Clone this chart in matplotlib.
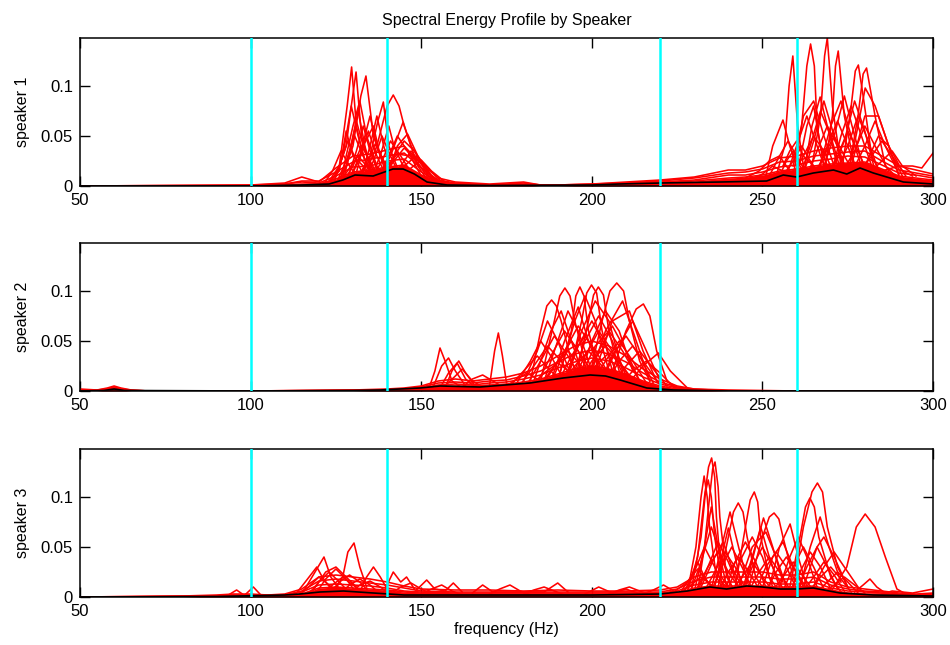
import numpy as np
import matplotlib
matplotlib.use("Agg")
import matplotlib.pyplot as plt

plt.rcParams['font.family'] = ['Liberation Sans', 'DejaVu Sans']

speakers = ['speaker 1', 'speaker 2', 'speaker 3']
band_edges = [100, 140, 220, 260]
xticks = [50, 100, 150, 200, 250, 300]
yticks = [0, 0.05, 0.1]
ytick_labels = ['0', '0.05', '0.1']

# ---- speaker 1 ----
s1_floor_f = [50, 100, 110, 115, 120, 125, 130, 135, 140, 145, 150, 155, 160, 170, 180, 185, 190,
              200, 210, 220, 230, 240, 245, 250, 255, 260, 265, 270, 275, 280, 285, 290, 295, 300]
s1_floor = [
    [0, .001, .003, .009, .004, .018, .030, .032, .036, .040, .022, .008, .004, .002, .004, .001, .001,
     .002, .004, .006, .009, .016, .016, .020, .028, .030, .035, .038, .040, .040, .030, .020, .016, .012],
    [0, .001, .002, .005, .005, .014, .024, .027, .030, .033, .018, .006, .003, .001, .003, .001, .001,
     .002, .003, .005, .008, .013, .014, .017, .024, .025, .030, .032, .034, .035, .025, .016, .013, .010],
    [0, 0, .002, .004, .003, .010, .019, .020, .025, .027, .014, .005, .002, .001, .002, .001, 0,
     .001, .003, .004, .006, .011, .011, .014, .019, .021, .025, .027, .030, .029, .021, .013, .011, .008],
    [0, 0, .001, .002, .002, .007, .014, .016, .019, .021, .011, .004, .002, .001, .001, 0, 0,
     .001, .002, .003, .005, .008, .009, .011, .015, .017, .020, .022, .023, .024, .017, .010, .008, .006],
    [0, 0, .001, .001, .002, .005, .009, .011, .014, .015, .008, .003, .001, 0, .001, 0, 0,
     .001, .001, .002, .003, .006, .006, .008, .011, .012, .014, .016, .017, .018, .012, .007, .006, .004],
    [0, 0, 0, .001, .001, .003, .005, .006, .008, .009, .005, .002, .001, 0, 0, 0, 0,
     0, .001, .001, .002, .004, .004, .005, .007, .008, .009, .010, .011, .011, .008, .005, .004, .003],
    [0, 0, 0, 0, 0, .001, .002, .003, .004, .004, .002, .001, 0, 0, 0, 0, 0,
     0, 0, .001, .001, .002, .002, .002, .003, .004, .004, .005, .005, .005, .004, .002, .002, .001],
]
s1_peaks = [
    [(122, 0), (126, .02), (128.3, .08), (129.6, .119), (131, .06), (133, .03), (136, .01), (140, 0)],
    [(124, 0), (127, .03), (129.5, .08), (130.9, .114), (132.5, .05), (135, .02), (140, 0)],
    [(126, 0), (130, .04), (132.3, .09), (133.8, .110), (136, .05), (139, .02), (143, 0)],
    [(130, 0), (135, .03), (137.3, .065), (138.9, .084), (140.5, .04), (144, .01), (148, 0)],
    [(132, 0), (137, .04), (140, .08), (141.8, .091), (143.5, .08), (145, .06), (149, .02), (153, 0)],
    [(124, 0), (128, .04), (129.5, .080), (131.5, .05), (134, .02), (138, 0)],
    [(126, 0), (130, .06), (132, .085), (134, .05), (137, .02), (141, 0)],
    [(128, 0), (132, .03), (135, .070), (137, .04), (141, .01), (145, 0)],
    [(134, 0), (138, .03), (140.5, .060), (142, .04), (146, .01), (150, 0)],
    [(136, 0), (141, .03), (144.7, .064), (147, .04), (151, .02), (155, 0)],
    [(138, 0), (142, .03), (145, .045), (148, .035), (152, .01), (156, 0)],
    [(122, 0), (126, .015), (128, .055), (130, .03), (133, .02), (136, 0)],
    [(125, 0), (128, .02), (131, .065), (133, .04), (136, .015), (140, 0)],
    [(130, 0), (133, .04), (136, .060), (138, .03), (141, .01), (145, 0)],
    [(139, 0), (143, .04), (146, .052), (149, .03), (153, .01), (157, 0)],
    [(121, 0), (124, .015), (126.5, .035), (129, .02), (132, .005)],
    [(123, 0), (126, .02), (128.5, .045), (131, .025), (134, .005)],
    [(125, .002), (128, .025), (130.5, .05), (133, .03), (136, .008)],
    [(127, .003), (130, .02), (132.5, .04), (135, .025), (138, .006)],
    [(129, .004), (132, .03), (134.5, .055), (137, .03), (140, .008)],
    [(131, .004), (134, .02), (136.5, .042), (139, .025), (142, .006)],
    [(133, .005), (136, .025), (138.5, .05), (141, .03), (144, .008)],
    [(135, .005), (138.5, .025), (141, .045), (144, .03), (148, .008)],
    [(137, .005), (140.5, .03), (143, .05), (146, .035), (150, .01)],
    [(138, .005), (142, .025), (145, .038), (148, .028), (152, .008)],
    [(140, .005), (144, .02), (147, .035), (150, .022), (154, .006)],
    [(141, .005), (145, .02), (148.5, .03), (152, .018), (156, .004)],
    [(136, .005), (140, .02), (143, .032), (147, .03), (151, .015), (155, .004)],
    [(143, .005), (147, .018), (150, .026), (153, .015), (157, .004)],
    [(126, .003), (129, .018), (131.5, .03), (134, .02), (137, .006)],
    [(128, .003), (131, .035), (133, .06), (135, .035), (138, .008)],
    [(132, .004), (135, .04), (137, .07), (139, .04), (142, .008)],
    [(127, .003), (129.5, .04), (131.5, .075), (133.5, .04), (136, .006)],
    [(254, .01), (256.5, .04), (257.8, .10), (258.9, .130), (260.3, .06), (262, .02), (265, .01)],
    [(259, .01), (261.5, .06), (263, .12), (264.1, .142), (265.2, .12), (266, .06), (268, .02), (271, .01)],
    [(264, .01), (267, .07), (268.2, .13), (269, .148), (270.5, .08), (273, .02), (276, .01)],
    [(268, .01), (270.5, .07), (271.4, .12), (272.2, .135), (274, .07), (277, .02), (280, .01)],
    [(273, .01), (276, .08), (277.2, .115), (278.1, .121), (279.5, .09), (282, .03), (285, .01)],
    [(275, .01), (278, .07), (279.5, .112), (280.5, .118), (283, .07), (286, .02), (289, .01)],
    [(275, .01), (278, .06), (280.1, .098), (283, .08), (287, .04), (290, .01)],
    [(262, .01), (264.5, .06), (266.9, .089), (269, .06), (272, .02), (275, .01)],
    [(251, .01), (253, .04), (256, .066), (258, .04), (260, .02), (263, .01)],
    [(259, .02), (262, .07), (265, .085), (268, .05), (271, .02), (274, .01)],
    [(266, .01), (270, .06), (273, .085), (276, .05), (279, .02), (282, .01)],
    [(270, .01), (273, .05), (276, .080), (279, .05), (282, .02), (285, .01)],
    [(276, .02), (280, .07), (284, .070), (288, .03), (291, .01)],
    [(280, .02), (284, .05), (287, .040), (291, .015), (294, .01)],
    [(260, .01), (263, .06), (265, .080), (267, .04), (270, .01)],
    [(256, .02), (258, .035), (260, .045), (262, .03), (265, .02)],
    [(285, .015), (290, .02), (294, .02), (296.7, .018), (300, .033)],
    [(245, .008), (249, .015), (252, .025), (255, .03), (258, .015), (261, .008)],
    [(252, .01), (255, .03), (257.5, .045), (260, .03), (263, .012)],
    [(256, .01), (259, .025), (261.5, .04), (264, .025), (267, .01)],
    [(257, .01), (260, .04), (263, .07), (266, .04), (269, .012)],
    [(261, .01), (264, .04), (267, .075), (270, .05), (273, .015)],
    [(263, .01), (266, .035), (269, .06), (272, .04), (275, .012)],
    [(265, .01), (268, .03), (271, .05), (274, .03), (277, .012)],
    [(267, .01), (271, .05), (274, .09), (277, .05), (280, .015)],
    [(269, .01), (272, .03), (275, .055), (278, .035), (281, .012)],
    [(271, .01), (275, .04), (278, .07), (281, .045), (284, .015)],
    [(273, .012), (277, .035), (280, .06), (283, .04), (287, .015)],
    [(276, .012), (280, .04), (283, .065), (286, .04), (290, .012)],
    [(278, .012), (282, .03), (285, .045), (288, .03), (292, .01)],
    [(281, .012), (285, .025), (288, .035), (291, .02), (295, .01)],
    [(259, .012), (262, .03), (265, .05), (268, .035), (271, .012)],
    [(262, .012), (265, .045), (268, .085), (271, .05), (274, .015)],
    [(266, .012), (269, .04), (272, .065), (275, .04), (278, .012)],
    [(270, .012), (274, .045), (277, .085), (280, .055), (283, .015)],
    [(255, .01), (257, .025), (259, .035), (261, .02), (263, .01)],
    [(246, .006), (250, .012), (253, .02), (256, .015), (259, .008)],
]
s1_mean = [(50, 0), (100, 0), (115, .001), (123, .002), (127, .006), (130.6, .011), (135.9, .010),
           (141.7, .017), (144.7, .017), (148, .012), (151.7, .004), (157.6, .001), (170, .0005),
           (200, .001), (208, .002), (220, .003), (237.6, .004), (251.2, .005), (256.1, .011),
           (260, .009), (264.9, .013), (270.8, .016), (274.7, .012), (278.6, .018), (282.5, .013),
           (291.3, .004), (300, .002)]

# ---- speaker 2 ----
s2_floor_f = [50, 55, 58, 60, 62, 65, 70, 100, 130, 140, 145, 150, 155, 160, 165, 170, 175, 180,
              185, 190, 195, 200, 205, 210, 215, 220, 225, 230, 240, 260, 300]
s2_floor = [
    [.002, .001, .003, .005, .003, .001, 0, 0, .001, .002, .003, .005, .010, .012, .010, .012, .014, .018,
     .025, .035, .045, .050, .045, .035, .022, .012, .005, .002, .001, 0, 0],
    [.001, .001, .002, .004, .002, .001, 0, 0, .001, .001, .002, .004, .008, .009, .008, .010, .011, .015,
     .020, .029, .037, .041, .037, .029, .018, .009, .004, .002, 0, 0, 0],
    [.001, 0, .002, .003, .002, 0, 0, 0, 0, .001, .002, .003, .006, .007, .006, .008, .009, .012,
     .016, .023, .029, .033, .030, .023, .014, .007, .003, .001, 0, 0, 0],
    [0, 0, .001, .002, .001, 0, 0, 0, 0, .001, .001, .002, .005, .005, .005, .006, .007, .009,
     .012, .017, .022, .025, .022, .017, .010, .005, .002, .001, 0, 0, 0],
    [0, 0, .001, .001, .001, 0, 0, 0, 0, 0, .001, .002, .003, .004, .003, .004, .005, .006,
     .008, .012, .015, .017, .015, .011, .007, .003, .001, 0, 0, 0, 0],
    [0, 0, 0, .001, 0, 0, 0, 0, 0, 0, .001, .001, .002, .002, .002, .002, .003, .004,
     .005, .007, .009, .010, .009, .007, .004, .002, .001, 0, 0, 0, 0],
    [0, 0, 0, 0, 0, 0, 0, 0, 0, 0, 0, 0, .001, .001, .001, .001, .001, .002,
     .002, .003, .004, .004, .004, .003, .002, .001, 0, 0, 0, 0, 0],
]
s2_peaks = [
    [(152, 0), (154, .02), (155.5, .043), (157, .03), (159, .01), (162, .003)],
    [(153, 0), (156, .025), (158, .033), (160, .02), (163, .005)],
    [(155, 0), (158, .018), (160.5, .028), (163, .012), (166, .003)],
    [(156, .002), (160, .015), (162, .022), (165, .01), (168, .004)],
    [(170, .005), (171.5, .04), (172.6, .058), (173.8, .035), (175, .008)],
    [(182, .01), (185, .06), (186.8, .085), (188.2, .091), (189.6, .085), (191, .07), (194, .03), (197, .01)],
    [(185, .01), (189, .07), (190.6, .095), (192.1, .103), (193.6, .095), (195, .07), (198, .03), (201, .01)],
    [(190, .01), (194, .06), (195.3, .095), (196.5, .104), (197.7, .095), (199, .06), (202, .02), (205, .01)],
    [(193, .01), (197, .07), (198.5, .098), (199.9, .106), (201.4, .098), (203, .06), (206, .02), (209, .01)],
    [(195, .01), (199, .07), (200.5, .096), (201.9, .104), (203.4, .096), (205, .06), (208, .02), (211, .01)],
    [(199, .01), (203, .07), (205.3, .100), (207.3, .108), (209.3, .100), (211, .07), (214, .03), (217, .01)],
    [(205, .01), (210, .06), (213, .082), (215.1, .087), (217, .075), (219, .04), (222, .01), (225, .003)],
    [(210, .005), (215, .025), (219.5, .038), (223, .02), (228, .003)],
    [(186, .01), (190, .05), (193, .08), (196, .06), (200, .02)],
    [(188, .01), (192, .05), (196, .084), (199, .05), (203, .015)],
    [(192, .01), (197, .06), (201, .09), (205, .07), (209, .02)],
    [(196, .01), (200, .05), (204, .08), (208, .06), (212, .02)],
    [(199, .01), (204, .06), (209, .09), (213, .05), (217, .01)],
    [(180, .01), (184, .04), (187, .07), (190, .05), (194, .015)],
    [(200, .01), (206, .07), (211, .08), (215, .04), (219, .01)],
    [(194, .01), (198, .05), (202, .075), (206, .05), (210, .015)],
    [(203, .01), (207, .04), (212, .07), (216, .04), (220, .01)],
    [(183, .01), (188, .06), (191, .08), (194, .05), (198, .01)],
    [(190, .01), (195, .07), (198, .095), (201, .07), (205, .02)],
    [(178, .008), (182, .03), (185, .05), (188, .035), (192, .01)],
    [(196, .01), (201, .045), (205, .06), (209, .04), (214, .01)],
    [(176, .005), (180, .02), (184, .035), (188, .02), (192, .006)],
    [(179, .006), (183, .025), (187, .045), (191, .03), (195, .008)],
    [(181, .006), (185, .03), (189, .055), (193, .035), (197, .01)],
    [(184, .008), (188, .035), (192, .06), (196, .04), (200, .01)],
    [(186, .008), (190, .03), (194, .05), (198, .03), (202, .008)],
    [(188, .008), (192, .04), (196, .065), (200, .045), (204, .01)],
    [(190, .008), (194, .035), (198, .055), (202, .035), (206, .01)],
    [(192, .008), (196, .045), (200, .07), (204, .045), (208, .012)],
    [(194, .008), (198, .035), (202, .06), (206, .04), (210, .01)],
    [(196, .008), (200, .03), (204, .045), (208, .03), (212, .008)],
    [(198, .008), (202, .04), (206, .065), (210, .04), (214, .01)],
    [(200, .008), (204, .03), (208, .05), (212, .03), (216, .008)],
    [(202, .006), (206, .035), (210, .055), (214, .035), (218, .008)],
    [(204, .006), (208, .03), (212, .045), (216, .025), (220, .006)],
    [(206, .006), (210, .025), (214, .04), (218, .022), (222, .005)],
    [(185, .006), (189, .025), (193, .04), (197, .025), (201, .006)],
    [(191, .006), (195, .025), (199, .04), (203, .025), (207, .006)],
    [(197, .006), (201, .025), (205, .038), (209, .025), (213, .006)],
    [(208, .005), (212, .02), (216, .03), (220, .018), (224, .004)],
    [(182, .005), (186, .018), (190, .028), (194, .018), (198, .005)],
    [(162, .004), (165, .012), (168, .016), (171, .01), (174, .004)],
    [(175, .005), (178, .012), (181, .018), (184, .012), (187, .005)],
    [(157, .003), (159, .02), (161, .03), (163, .018), (166, .004)],
]
s2_mean = [(50, 0), (57, .0005), (60, .002), (63, .0005), (100, 0), (130, .0005), (137.9, .001),
           (149.6, .003), (155.5, .005), (167.2, .004), (181.9, .008), (191.6, .013), (199.5, .016),
           (204, .015), (208.3, .011), (216.1, .003), (223.9, .001), (240, 0), (300, 0)]

# ---- speaker 3 ----
s3_floor_f = [50, 80, 90, 95, 100, 105, 110, 115, 120, 125, 130, 135, 140, 145, 150, 160, 170, 180, 190,
              200, 210, 220, 225, 230, 235, 240, 245, 250, 255, 260, 265, 270, 275, 280, 285, 290, 295, 300]
s3_floor = [
    [0, .001, .002, .003, .003, .002, .003, .008, .020, .022, .020, .018, .015, .011, .008, .007, .007, .006, .007,
     .006, .006, .007, .010, .020, .025, .025, .025, .025, .022, .022, .025, .015, .010, .008, .006, .004, .003, .004],
    [0, .001, .001, .002, .002, .002, .002, .006, .016, .018, .016, .014, .012, .009, .006, .005, .005, .005, .005,
     .005, .005, .005, .008, .016, .020, .020, .020, .020, .018, .018, .020, .012, .008, .006, .005, .003, .002, .003],
    [0, 0, .001, .002, .002, .001, .002, .005, .012, .013, .012, .011, .009, .006, .005, .004, .004, .004, .004,
     .004, .004, .004, .006, .012, .015, .015, .015, .015, .013, .013, .015, .009, .006, .005, .004, .002, .002, .002],
    [0, 0, .001, .001, .001, .001, .001, .003, .009, .010, .009, .008, .007, .005, .004, .003, .003, .003, .003,
     .003, .003, .003, .004, .009, .011, .011, .011, .011, .010, .010, .011, .007, .004, .003, .003, .002, .001, .002],
    [0, 0, 0, .001, .001, 0, .001, .002, .006, .007, .006, .005, .004, .003, .003, .002, .002, .002, .002,
     .002, .002, .002, .003, .006, .008, .008, .008, .008, .007, .007, .008, .004, .003, .002, .002, .001, .001, .001],
    [0, 0, 0, 0, 0, 0, 0, .001, .003, .003, .003, .003, .002, .002, .002, .001, .001, .001, .001,
     .001, .001, .001, .001, .003, .004, .004, .004, .004, .003, .003, .004, .002, .001, .001, .001, .001, 0, .001],
]
s3_peaks = [
    [(228, .005), (231, .04), (233, .10), (234.2, .13), (235.1, .139), (236, .12), (236.5, .08), (238, .02), (241, .005)],
    [(230, .005), (233, .05), (234.5, .10), (235.4, .128), (236.1, .135), (237, .11), (237.5, .08), (239.5, .02), (242, .005)],
    [(228, .005), (230.5, .05), (232, .10), (232.9, .121), (233.8, .10), (234.5, .07), (236.5, .02), (239, .005)],
    [(229, .005), (232, .06), (233.3, .105), (234.1, .117), (235, .10), (236, .06), (238, .015), (241, .005)],
    [(237, .01), (240, .06), (241.5, .085), (242.9, .094), (244.3, .085), (245.5, .06), (248, .02), (251, .005)],
    [(242, .01), (245, .07), (246.4, .097), (247.6, .105), (248.6, .095), (249.5, .06), (252, .02), (255, .005)],
    [(246, .01), (250, .06), (252, .08), (253.4, .084), (254.8, .078), (256, .06), (259, .02), (262, .005)],
    [(245, .01), (248, .05), (250.3, .079), (253, .05), (256, .015)],
    [(252, .01), (255, .05), (258.1, .073), (260.5, .04), (263, .01)],
    [(259, .01), (262, .07), (264.5, .105), (266.1, .114), (267.6, .105), (269, .07), (272, .03), (275, .01)],
    [(258, .01), (261, .06), (262.6, .09), (263.9, .099), (265.2, .09), (266.5, .06), (270, .02), (273, .005)],
    [(261, .01), (264, .05), (266.9, .080), (269.5, .05), (273, .015)],
    [(270, .005), (274.7, .03), (277.5, .07), (280.1, .083), (283, .07), (286, .04), (289.4, .008), (292, .003)],
    [(277, .005), (279.5, .012), (281.5, .018), (283.5, .01), (286, .004)],
    [(236, .01), (238, .04), (240, .069), (242, .04), (244, .01)],
    [(232, .01), (236, .04), (238.5, .055), (241, .03), (244, .01)],
    [(240, .01), (244, .04), (247, .060), (250, .04), (253, .01)],
    [(250, .01), (253, .04), (256, .055), (259, .03), (262, .01)],
    [(255, .01), (258, .04), (260.5, .060), (263, .04), (266, .01)],
    [(262, .01), (266, .05), (268, .060), (271, .04), (275, .01)],
    [(264, .005), (268, .03), (271, .045), (274, .03), (278, .01)],
    [(226, .005), (229, .02), (231, .035), (233, .02), (236, .005)],
    [(243, .01), (247, .05), (251, .065), (254, .04), (257, .01)],
    [(231, .01), (234, .03), (237, .045), (240, .025), (243, .01)],
    [(224, .005), (228, .015), (231, .028), (234, .015), (237, .005)],
    [(227, .005), (230, .025), (233, .05), (236, .03), (239, .008)],
    [(229, .006), (232, .035), (235, .07), (238, .04), (241, .01)],
    [(231, .006), (234, .03), (237, .055), (240, .035), (243, .01)],
    [(233, .006), (236, .025), (239, .045), (242, .03), (245, .008)],
    [(235, .006), (238, .03), (241, .05), (244, .03), (247, .008)],
    [(237, .006), (240, .025), (243, .04), (246, .025), (249, .008)],
    [(239, .006), (242, .035), (245, .055), (248, .035), (251, .01)],
    [(241, .006), (244, .02), (247, .035), (250, .02), (253, .006)],
    [(244, .006), (247, .03), (250, .05), (253, .03), (256, .008)],
    [(246, .006), (249, .025), (252, .04), (255, .025), (258, .008)],
    [(248, .006), (251, .03), (254, .045), (257, .03), (260, .008)],
    [(251, .006), (254, .025), (257, .04), (260, .025), (263, .008)],
    [(253, .006), (256, .02), (259, .035), (262, .02), (265, .006)],
    [(256, .006), (259, .03), (262, .05), (265, .03), (268, .008)],
    [(258, .006), (261, .025), (264, .045), (267, .03), (270, .008)],
    [(260, .006), (263, .03), (266, .05), (269, .03), (272, .008)],
    [(262, .006), (265, .02), (268, .035), (271, .022), (274, .006)],
    [(264, .006), (267, .02), (270, .03), (273, .018), (276, .005)],
    [(266, .005), (269, .015), (272, .025), (275, .015), (278, .004)],
    [(268, .005), (271, .012), (274, .02), (277, .012), (280, .004)],
    [(226, .005), (229, .012), (232, .02), (235, .012), (238, .004)],
    [(235, .008), (238, .05), (240.5, .085), (243, .05), (246, .01)],
    [(231, .006), (233, .05), (235, .09), (237, .05), (239.5, .01)],
    [(244, .006), (247, .04), (249.5, .07), (252, .04), (255, .01)],
    [(124, .003), (127, .02), (128.5, .045), (130.3, .054), (132, .03), (134, .01)],
    [(115, .003), (118, .02), (121.5, .040), (123.5, .02), (126, .008)],
    [(113, .002), (116, .015), (119.4, .030), (121, .02), (124, .006)],
    [(132, .005), (134, .02), (136, .030), (138, .02), (140, .008)],
    [(98, .001), (100.8, .010), (103, .002)],
    [(93, .001), (95.9, .007), (98, .002)],
    [(139, .005), (141.8, .025), (144, .015), (145.7, .020), (148, .008)],
    [(148, .005), (151.6, .017), (154, .008), (157, .006), (159.4, .014), (162, .005)],
    [(118, .005), (122, .025), (125, .030), (128, .020), (131, .01)],
    [(165, .004), (168, .012), (171, .005), (186, .005), (190, .014), (193, .005)],
    [(198, .003), (202, .010), (206, .004), (210, .008), (214, .003)],
    [(114, .002), (117, .01), (120, .02), (123, .012), (126, .004)],
    [(117, .003), (120, .015), (123, .025), (126, .015), (129, .004)],
    [(119, .003), (122, .018), (125, .028), (128, .018), (131, .004)],
    [(121, .003), (124, .012), (127, .02), (130, .012), (133, .004)],
    [(123, .003), (126, .015), (129, .022), (132, .015), (135, .004)],
    [(126, .003), (129, .012), (132, .018), (135, .012), (138, .003)],
    [(129, .003), (132, .012), (135, .016), (138, .01), (141, .003)],
    [(141, .003), (144, .01), (147, .014), (150, .008), (153, .003)],
    [(150, .003), (153, .008), (156, .012), (159, .006), (162, .002)],
    [(170, .003), (173, .008), (176, .012), (179, .006), (182, .002)],
    [(180, .003), (183, .007), (186, .01), (189, .006), (192, .002)],
    [(205, .003), (208, .007), (211, .01), (214, .006), (217, .002)],
    [(215, .003), (218, .007), (221, .012), (224, .006), (227, .002)],
    [(285, .003), (288, .006), (291, .005), (294, .004), (297, .006), (300, .008)],
]
s3_mean = [(50, 0), (90, .0005), (110, .002), (114.5, .003), (120.3, .005), (127.2, .006), (136, .004),
           (145, .002), (160, .002), (200, .002), (220, .003), (228, .006), (234.6, .010), (239.5, .008),
           (245.4, .011), (250, .010), (255.2, .008), (260, .008), (264.9, .009), (268, .007),
           (272.7, .004), (282.5, .002), (300, .001)]

floor_f = [s1_floor_f, s2_floor_f, s3_floor_f]
floors = [s1_floor, s2_floor, s3_floor]
peaks = [s1_peaks, s2_peaks, s3_peaks]
means = [s1_mean, s2_mean, s3_mean]
solid_row = 3  # below this floor row the overlapping curves merge into solid red

fig = plt.figure(figsize=(9.5, 6.45), dpi=100)
bottoms = [0.7116, 0.3938, 0.0744]
axes = [fig.add_axes([0.0842, b, 0.898, 0.2295]) for b in bottoms]

for k, ax in enumerate(axes):
    ax.fill_between(floor_f[k], floors[k][solid_row], color='r', lw=0, zorder=2)
    for row in floors[k]:
        ax.plot(floor_f[k], row, color='r', lw=1.15, zorder=2)
    for c in peaks[k]:
        f, v = zip(*c)
        ax.plot(f, v, color='r', lw=1.15, zorder=2)
    f, v = zip(*means[k])
    ax.plot(f, v, color='k', lw=1.2, zorder=3)
    for e in band_edges:
        ax.axvline(e, color='#00ffff', lw=1.8, zorder=4)

    ax.set_xlim(50, 300)
    ax.set_ylim(0, 0.148)
    ax.set_xticks(xticks)
    ax.set_yticks(yticks)
    ax.set_yticklabels(ytick_labels)
    ax.tick_params(direction='in', length=7, width=1, top=True, right=True,
                   labelsize=12, pad=5)
    for s in ax.spines.values():
        s.set_linewidth(1.1)
    ax.set_ylabel(speakers[k], fontsize=11.5, labelpad=8)

axes[0].set_title('Spectral Energy Profile by Speaker', fontsize=11.5, pad=9)
axes[2].set_xlabel('frequency (Hz)', fontsize=11.5, labelpad=2)

fig.savefig('out.png', dpi=100)
